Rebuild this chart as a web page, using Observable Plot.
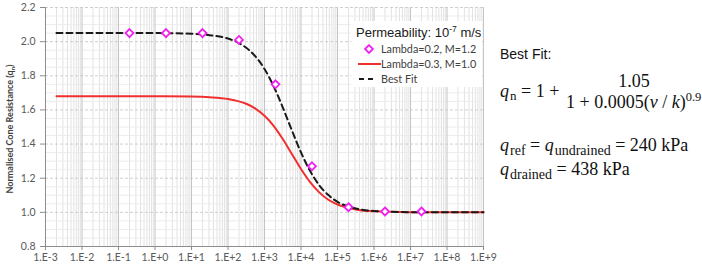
<!DOCTYPE html>
<html>
<head>
<meta charset="utf-8">
<script src="https://cdn.jsdelivr.net/npm/d3@7"></script>
<script src="https://cdn.jsdelivr.net/npm/@observablehq/plot@0.6"></script>
<style>
  body { margin: 0; background: #fff; }
  #wrap { position: relative; width: 702px; height: 268px; overflow: hidden; }
  #wrap svg.plot { position: absolute; left: 0; top: 0; }
  #overlay { position: absolute; left: 0; top: 0; pointer-events: none; }
</style>
</head>
<body>
<div id="wrap"></div>
<script>
// Normalised velocity v/k at which the two curves are sampled
const curveV = [2e-3, 1e-2, 1e-1, 1, 10, 31.6, 100, 178, 316, 562, 1000, 1778, 3162, 5623,
                1e4, 17783, 31623, 56234, 1e5, 316228, 1e6, 1e7, 1e8, 1e9];
// Best Fit curve (dashed)
const bestFitQn = [2.05, 2.05, 2.05, 2.05, 2.046, 2.038, 2.018, 1.997, 1.964, 1.914, 1.840, 1.739, 1.615, 1.480,
                   1.351, 1.242, 1.159, 1.101, 1.062, 1.023, 1.008, 1.001, 1.0, 1.0];
// Lambda=0.3, M=1.0 (red line)
const lambda03Qn = [1.68, 1.68, 1.68, 1.68, 1.678, 1.674, 1.664, 1.653, 1.636, 1.608, 1.566, 1.507, 1.430, 1.342,
                    1.254, 1.177, 1.117, 1.074, 1.046, 1.017, 1.006, 1.001, 1.0, 1.0];
// Lambda=0.2, M=1.2 (markers)
const markerV = [0.2, 2, 20, 200, 2000, 2e4, 2e5, 2e6, 2e7];
const markerQn = [2.05, 2.05, 2.05, 2.01, 1.75, 1.27, 1.03, 1.005, 1.005];

// Axis ticks
const xTicks = [1e-3, 1e-2, 1e-1, 1e0, 1e1, 1e2, 1e3, 1e4, 1e5, 1e6, 1e7, 1e8, 1e9];
const xTickLabels = ["1.E-3", "1.E-2", "1.E-1", "1.E+0", "1.E+1", "1.E+2", "1.E+3", "1.E+4", "1.E+5", "1.E+6", "1.E+7", "1.E+8", "1.E+9"];
const yTicks = [0.8, 1.0, 1.2, 1.4, 1.6, 1.8, 2.0, 2.2];

const curveRows = curveV.map((v, i) => ({v, fit: bestFitQn[i], lam: lambda03Qn[i]}));
const markerRows = markerV.map((v, i) => ({v, q: markerQn[i]}));

// Log-scale minor gridlines (2..9 within each decade) and 0.05 horizontal steps
const minorX = [];
for (let d = -3; d < 9; d++) for (let k = 2; k <= 9; k++) minorX.push(k * Math.pow(10, d));
const minorY = [];
for (let i = 0; i <= 28; i++) { const y = +(0.8 + i * 0.05).toFixed(2); if (Math.abs(y * 5 - Math.round(y * 5)) > 1e-6) minorY.push(y); }

const labelOf = new Map(xTicks.map((t, i) => [t, xTickLabels[i]]));

const chart = Plot.plot({
  width: 702,
  height: 268,
  marginLeft: 45,
  marginRight: 219,
  marginTop: 7,
  marginBottom: 22,
  style: {fontFamily: "Lato, sans-serif", fontSize: "10.5px", color: "#595959", background: "transparent"},
  x: {type: "log", domain: [1e-3, 1e9], label: null},
  y: {domain: [0.8, 2.2], label: null},
  marks: [
    Plot.ruleX(minorX, {stroke: "#e2e2e2", strokeWidth: 1}),
    Plot.ruleY(minorY, {stroke: "#ececec", strokeWidth: 1}),
    Plot.ruleY(yTicks, {stroke: "#cfcfcf", strokeWidth: 1, strokeDasharray: "3,2"}),
    Plot.ruleX(xTicks, {stroke: "#c4c4c4", strokeWidth: 1}),
    Plot.ruleX([1e-3], {stroke: "#8c8c8c"}),
    Plot.ruleY([0.8], {stroke: "#8c8c8c"}),
    Plot.axisX({ticks: xTicks, tickFormat: d => labelOf.get(d), label: null, tickSize: 4, tickPadding: 3, fontSize: 10.5, stroke: "#8c8c8c", fill: "#595959"}),
    Plot.axisY({ticks: yTicks, tickFormat: d => d.toFixed(1), label: null, tickSize: 5, tickPadding: 5, fontSize: 10.5, stroke: "#8c8c8c", fill: "#595959"}),
    Plot.line(curveRows, {x: "v", y: "lam", stroke: "#f0302f", strokeWidth: 2, curve: "monotone-x"}),
    Plot.line(curveRows, {x: "v", y: "fit", stroke: "#1a1a1a", strokeWidth: 2, strokeDasharray: "6,4", curve: "monotone-x"}),
    Plot.dot(markerRows, {x: "v", y: "q", symbol: "diamond2", r: 3.6, stroke: "#f020f0", strokeWidth: 1.8, fill: "white"})
  ]
});
chart.classList.add("plot");
const wrap = document.getElementById("wrap");
wrap.appendChild(chart);

// Annotations: axis title, legend and the fitted equation
const ov = d3.select(wrap).append("svg").attr("id", "overlay").attr("width", 702).attr("height", 268);

ov.append("text")
  .attr("transform", "translate(13,129) rotate(-90)")
  .attr("text-anchor", "middle")
  .attr("font-family", "Lato, sans-serif").attr("font-weight", "bold").attr("font-size", 9).attr("fill", "#404040")
  .call(t => {
    t.append("tspan").text("Normalised Cone Resistance (q");
    t.append("tspan").attr("font-size", 6).attr("dy", 2).text("n");
    t.append("tspan").attr("dy", -2).text(")");
  });

// Legend
const lg = ov.append("g");
lg.append("rect").attr("x", 351).attr("y", 21).attr("width", 131).attr("height", 66).attr("fill", "white");
lg.append("text").attr("x", 356).attr("y", 37).attr("font-family", "Liberation Sans, Arial, sans-serif").attr("font-size", 13).attr("fill", "#1a1a1a")
  .call(t => {
    t.append("tspan").text("Permeability: 10");
    t.append("tspan").attr("font-size", 8.5).attr("dy", -5).text("-7");
    t.append("tspan").attr("dy", 5).text(" m/s");
  });
const legendFont = t => t.attr("font-family", "Lato, sans-serif").attr("font-size", 10.8).attr("fill", "#404040");
lg.append("path").attr("d", d3.symbol(d3.symbolDiamond2, 40)()).attr("transform", "translate(369,49)")
  .attr("fill", "white").attr("stroke", "#f020f0").attr("stroke-width", 1.8);
lg.append("text").attr("x", 381).attr("y", 53).call(legendFont).text("Lambda=0.2, M=1.2");
lg.append("line").attr("x1", 358).attr("x2", 381).attr("y1", 64).attr("y2", 64).attr("stroke", "#f0302f").attr("stroke-width", 2);
lg.append("text").attr("x", 381).attr("y", 68).call(legendFont).text("Lambda=0.3, M=1.0");
lg.append("line").attr("x1", 359).attr("x2", 374).attr("y1", 79).attr("y2", 79).attr("stroke", "#1a1a1a").attr("stroke-width", 2).attr("stroke-dasharray", "5,4");
lg.append("text").attr("x", 381).attr("y", 83).call(legendFont).text("Best Fit");

// Equation panel
const eq = ov.append("g").attr("fill", "#111");
eq.append("text").attr("x", 500).attr("y", 58.5).attr("font-family", "Liberation Sans, Arial, sans-serif").attr("font-size", 14).text("Best Fit:");
const serif = t => t.attr("font-family", "Liberation Serif, Times New Roman, serif").attr("font-size", 18);
eq.append("text").attr("x", 500).attr("y", 97).call(serif).call(t => {
  t.append("tspan").attr("font-style", "italic").text("q");
  t.append("tspan").attr("font-size", 13).attr("dy", 3).attr("dx", 1).text("n");
  t.append("tspan").attr("dy", -3).text(" = 1 + ");
});
eq.append("text").attr("x", 634).attr("y", 87).attr("text-anchor", "middle").call(serif).text("1.05");
eq.append("text").attr("x", 566).attr("y", 107.5).call(serif).call(t => {
  t.append("tspan").text("1 + 0.0005(");
  t.append("tspan").attr("font-style", "italic").text("v");
  t.append("tspan").text(" / ");
  t.append("tspan").attr("font-style", "italic").text("k");
  t.append("tspan").text(")");
  t.append("tspan").attr("font-size", 12.5).attr("dy", -7).text("0.9");
});
eq.append("text").attr("x", 500).attr("y", 151).call(serif).call(t => {
  t.append("tspan").attr("font-style", "italic").text("q");
  t.append("tspan").attr("font-size", 14).attr("dy", 4).attr("dx", 1).text("ref");
  t.append("tspan").attr("dy", -4).text(" = ");
  t.append("tspan").attr("font-style", "italic").text("q");
  t.append("tspan").attr("font-size", 14).attr("dy", 4).attr("dx", 1).text("undrained");
  t.append("tspan").attr("dy", -4).text(" = 240 kPa");
});
eq.append("text").attr("x", 500).attr("y", 175).call(serif).call(t => {
  t.append("tspan").attr("font-style", "italic").text("q");
  t.append("tspan").attr("font-size", 14).attr("dy", 4).attr("dx", 1).text("drained");
  t.append("tspan").attr("dy", -4).text(" = 438 kPa");
});
</script>
</body>
</html>
